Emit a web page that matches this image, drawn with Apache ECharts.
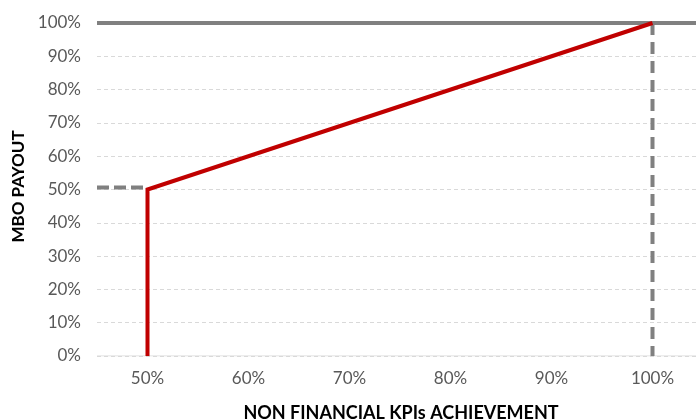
<!DOCTYPE html>
<html>
<head>
<meta charset="utf-8">
<script src="https://cdn.jsdelivr.net/npm/echarts@6/dist/echarts.min.js"></script>
<style>
  html, body { margin: 0; padding: 0; background: #fff; }
  #chart { width: 696px; height: 419px; }
</style>
</head>
<body>
<div id="chart"></div>
<script>
// values (percent)
const xTicks = [50, 60, 70, 80, 90, 100]
const payoutCurve = [[50, 0], [50, 50], [100, 100]]
const capLine = [[45, 100], [105, 100]]
const thresholdGuide = [[45, 50.6], [49.6, 50.6]]
const targetGuide = [[100, 100], [100, 0]]

const chart = echarts.init(document.getElementById('chart'), null, { renderer: 'canvas' })
const font = 'Lato, "Liberation Sans", Arial, sans-serif'

chart.setOption({
  animation: false,
  grid: { left: 97, top: 23, width: 606, height: 333, containLabel: false, outerBoundsMode: 'none' },
  xAxis: {
    type: 'value',
    min: 45,
    max: 105,
    interval: 5,
    name: 'NON FINANCIAL KPIs ACHIEVEMENT',
    nameLocation: 'middle',
    nameGap: 48,
    nameTextStyle: { color: '#000', fontSize: 18, fontWeight: 'bold', fontFamily: font, padding: [0, 0, 0, 2] },
    axisLine: { show: false },
    axisTick: { show: false },
    splitLine: { show: false },
    axisLabel: {
      customValues: xTicks,
      color: '#595959',
      fontSize: 17,
      fontFamily: font,
      margin: 14,
      formatter: v => v + '%',
    },
  },
  yAxis: {
    type: 'value',
    min: 0,
    max: 100,
    interval: 10,
    name: 'MBO PAYOUT',
    nameLocation: 'middle',
    nameGap: 62,
    nameTextStyle: { color: '#000', fontSize: 17, fontWeight: 'bold', fontFamily: font, padding: [0, 0, 0, 6] },
    axisLine: { show: false },
    axisTick: { show: false },
    axisLabel: { color: '#595959', fontSize: 17, fontFamily: font, margin: 16, formatter: v => v + '%' },
    splitLine: {
      show: true,
      lineStyle: { color: '#d9d9d9', width: 1, type: [4, 3] },
    },
  },
  series: [
    {
      type: 'line', data: [[45, 0], [105, 0]], symbol: 'none', silent: true,
      lineStyle: { color: '#d9d9d9', width: 1 },
    },
    {
      type: 'line', data: capLine, symbol: 'none', silent: true,
      lineStyle: { color: '#808080', width: 4 },
    },
    {
      type: 'line', data: thresholdGuide, symbol: 'none', silent: true,
      lineStyle: { color: '#808080', width: 4, type: [12, 5] },
    },
    {
      type: 'line', data: targetGuide, symbol: 'none', silent: true,
      lineStyle: { color: '#808080', width: 4, type: [12, 7] },
    },
    {
      type: 'line', data: payoutCurve, symbol: 'none', silent: true,
      lineStyle: { color: '#c00000', width: 4, join: 'miter' },
    },
  ],
})
</script>
</body>
</html>
